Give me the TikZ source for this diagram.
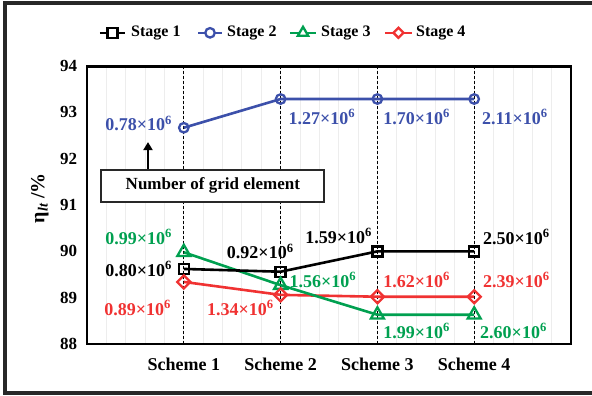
\documentclass[tikz,border=0pt]{standalone}
\usepackage{fontspec}
\setmainfont{Liberation Serif}
\usetikzlibrary{arrows.meta,positioning,calc,shapes.geometric}
\definecolor{sblue}{RGB}{60,80,170}
\definecolor{sgreen}{RGB}{0,160,80}
\definecolor{sred}{RGB}{240,50,50}
\definecolor{edge}{RGB}{40,40,40}

\begin{document}
\begin{tikzpicture}[x=96.8pt,y=46.3pt,
txt/.style={font=\fontsize{16}{18}\selectfont\bfseries,inner sep=1pt},
val/.style={font=\fontsize{18}{20}\selectfont\bfseries,inner sep=1pt},
ser/.style={line width=2.6pt,line join=round},
mk/.style={draw,line width=2.3pt,fill=none,inner sep=0pt},
msq/.style={mk,rectangle,minimum size=10pt},
mci/.style={mk,circle,minimum size=9.5pt},
mtri/.style={mk,regular polygon,regular polygon sides=3,minimum size=15pt},
mdia/.style={mk,diamond,minimum size=14pt},
arr/.style={-{Triangle[length=8pt,width=9pt]},line width=2.4pt}]
\useasboundingbox (-0.8988,86.877) rectangle (5.2169,95.430);
\draw[edge,line width=3.2pt] (-0.847,86.94) rectangle (5.27,95.365);
\foreach \g in {0.2,0.4,...,4.9} \draw[gray!14,line width=0.8pt] (\g,88) -- (\g,94);
\foreach \s in {1,...,4} {
  \draw[dash pattern=on 3pt off 2pt,line width=1.3pt] (\s,88) -- (\s,94);
  \node[txt,font=\fontsize{18}{20}\selectfont\bfseries] (sch\s) at (\s,87.55) {Scheme \s};
}
\draw[line width=2.8pt] (0,88) rectangle (5,94);
\foreach \v in {88,...,94} \node[txt,font=\fontsize{17}{20}\selectfont\bfseries,anchor=east] (yt\v) at (-0.09,\v) {\v};
\node[txt,font=\fontsize{20}{22}\selectfont\bfseries,rotate=90] (ytitle) at (-0.486,91.15) {η\textsubscript{\itshape lt} /\%};

\node[msq,black] (a1) at (1,89.62) {};
\node[msq,black] (a2) at (2,89.56) {};
\node[msq,black] (a3) at (3,90.0) {};
\node[msq,black] (a4) at (4,90.0) {};
\node[mci,sblue] (b1) at (1,92.67) {};
\node[mci,sblue] (b2) at (2,93.29) {};
\node[mci,sblue] (b3) at (3,93.29) {};
\node[mci,sblue] (b4) at (4,93.29) {};
\node[mtri,sgreen] (c1) at (1,89.98) {};
\node[mtri,sgreen] (c2) at (2,89.27) {};
\node[mtri,sgreen] (c3) at (3,88.63) {};
\node[mtri,sgreen] (c4) at (4,88.63) {};
\node[mdia,sred] (d1) at (1,89.34) {};
\node[mdia,sred] (d2) at (2,89.06) {};
\node[mdia,sred] (d3) at (3,89.02) {};
\node[mdia,sred] (d4) at (4,89.02) {};
\draw[ser,sred] (d1.center) -- (d2.center) -- (d3.center) -- (d4.center);
\draw[ser,sgreen] (c1.center) -- (c2.center) -- (c3.center) -- (c4.center);
\draw[ser,black] (a1.center) -- (a2.center) -- (a3.center) -- (a4.center);
\draw[ser,sblue] (b1.center) -- (b2.center) -- (b3.center) -- (b4.center);

\node[val,sblue,anchor=east] (b1t) at (0.89,92.77) {0.78×10\textsuperscript{6}};
\node[val,sblue,anchor=west] (b2t) at (2.07,92.9) {1.27×10\textsuperscript{6}};
\node[val,sblue,anchor=west] (b3t) at (3.05,92.9) {1.70×10\textsuperscript{6}};
\node[val,sblue,anchor=west] (b4t) at (4.07,92.9) {2.11×10\textsuperscript{6}};
\node[val,sgreen,anchor=east] (c1t) at (0.89,90.31) {0.99×10\textsuperscript{6}};
\node[val,sgreen,anchor=west] (c2t) at (2.08,89.38) {1.56×10\textsuperscript{6}};
\node[val,sgreen,anchor=west] (c3t) at (3.05,88.28) {1.99×10\textsuperscript{6}};
\node[val,sgreen,anchor=west] (c4t) at (4.05,88.28) {2.60×10\textsuperscript{6}};
\node[val,black,anchor=east] (a1t) at (0.89,89.62) {0.80×10\textsuperscript{6}};
\node[val,black] (a2t) at (1.79,89.99) {0.92×10\textsuperscript{6}};
\node[val,black] (a3t) at (2.6,90.33) {1.59×10\textsuperscript{6}};
\node[val,black,anchor=west] (a4t) at (4.08,90.31) {2.50×10\textsuperscript{6}};
\node[val,sred,anchor=east] (d1t) at (0.88,88.78) {0.89×10\textsuperscript{6}};
\node[val,sred,anchor=east] (d2t) at (1.94,88.78) {1.34×10\textsuperscript{6}};
\node[val,sred,anchor=west] (d3t) at (3.05,89.38) {1.62×10\textsuperscript{6}};
\node[val,sred,anchor=west] (d4t) at (4.08,89.38) {2.39×10\textsuperscript{6}};

\node[txt,font=\fontsize{17}{19}\selectfont\bfseries,draw=edge,line width=1.8pt,fill=white,minimum width=223pt,minimum height=32pt] (note) at (1.30,91.42) {Number of grid element};
\coordinate (tip) at (0.63,92.36);
\draw[arr] (note.north -| tip) -- (tip);

\coordinate (l1a) at (0.134,94.72); \coordinate (l1b) at (0.393,94.72);
\coordinate (l2a) at (1.147,94.72); \coordinate (l2b) at (1.395,94.72);
\coordinate (l3a) at (2.097,94.72); \coordinate (l3b) at (2.366,94.72);
\coordinate (l4a) at (3.078,94.72); \coordinate (l4b) at (3.357,94.72);
\draw[ser,black] (l1a) -- (l1b);
\draw[ser,sblue] (l2a) -- (l2b);
\draw[ser,sgreen] (l3a) -- (l3b);
\draw[ser,sred] (l4a) -- (l4b);
\node[msq,black,fill=white] (l1m) at ($(l1a)!0.5!(l1b)$) {};
\node[mci,sblue,fill=white] (l2m) at ($(l2a)!0.5!(l2b)$) {};
\node[mtri,sgreen,fill=white,minimum size=12pt] (l3m) at ($(l3a)!0.5!(l3b)$) {};
\node[mdia,sred,fill=white,minimum size=11pt] (l4m) at ($(l4a)!0.5!(l4b)$) {};
\node[txt,right=5pt of l1b] (l1t) {Stage 1};
\node[txt,right=4pt of l2b] (l2t) {Stage 2};
\node[txt,right=4pt of l3b] (l3t) {Stage 3};
\node[txt,right=3pt of l4b] (l4t) {Stage 4};
\end{tikzpicture}
\end{document}
